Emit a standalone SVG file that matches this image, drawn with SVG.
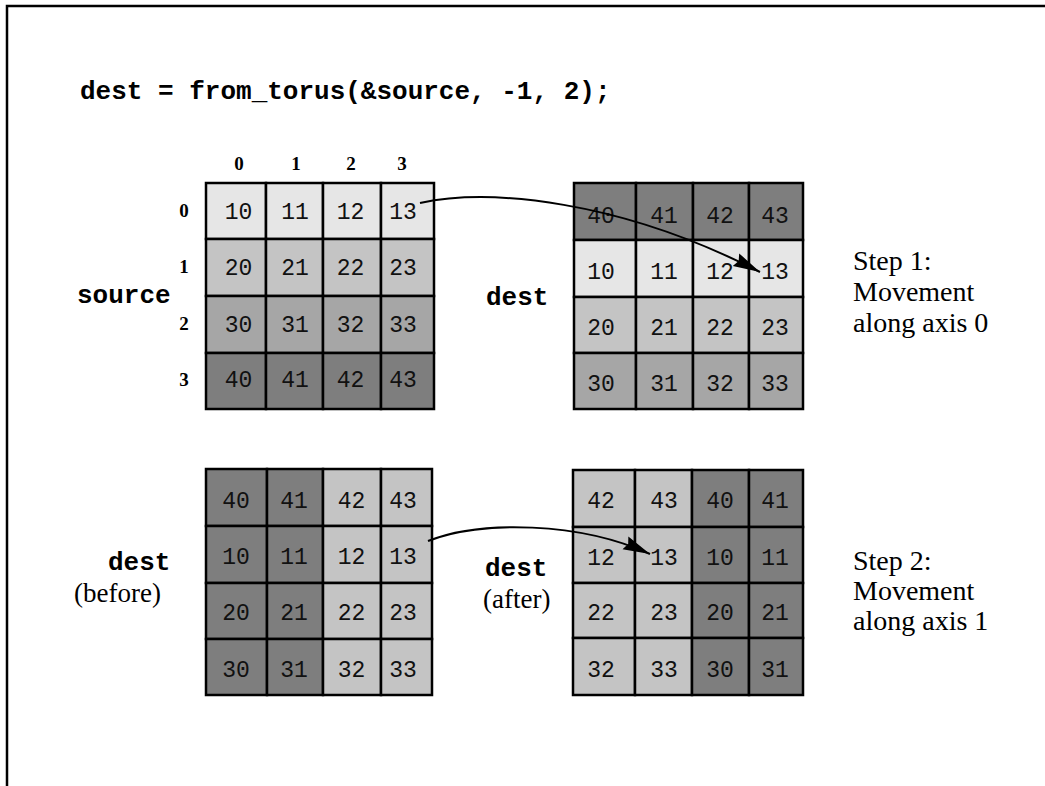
<svg xmlns="http://www.w3.org/2000/svg" width="1045" height="786" viewBox="0 0 1045 786">
<style>
.frame{fill:none;stroke:#000;stroke-width:2.5}
.cell{stroke:#000;stroke-width:2.5}
.c1{fill:#e6e6e6}
.c2{fill:#c4c4c4}
.c3{fill:#a6a6a6}
.c4{fill:#7e7e7e}
.num{font-family:"Liberation Mono",monospace;font-size:23px;fill:#111;text-anchor:middle}
.code{font-family:"Liberation Mono",monospace;font-size:26px;font-weight:bold;fill:#000}
.idx{font-family:"Liberation Serif",serif;font-size:19px;font-weight:bold;fill:#000;text-anchor:middle}
.note{font-family:"Liberation Serif",serif;font-size:28px;fill:#000}
.sub{font-family:"Liberation Serif",serif;font-size:27px;fill:#000}
.conn{fill:none;stroke:#000;stroke-width:2}
</style>
<defs>
<marker id="ah" markerUnits="userSpaceOnUse" markerWidth="28" markerHeight="16" refX="27" refY="8" orient="auto">
<path d="M0,1 L27,8 L0,15 L3,8 z" fill="#000"/>
</marker>
</defs>
<rect x="0" y="0" width="1045" height="786" fill="#fff"/>
<path class="frame" d="M7,786 L7,6 L1045,6"/>

<g id="title">
<text class="code" x="80" y="99">dest = from_torus(&amp;source, -1, 2);</text>
</g>

<g id="source-grid">
<text class="idx" x="239" y="170">0</text>
<text class="idx" x="296" y="170">1</text>
<text class="idx" x="351" y="170">2</text>
<text class="idx" x="402" y="170">3</text>
<text class="idx" x="184" y="217">0</text>
<text class="idx" x="184" y="273">1</text>
<text class="idx" x="184" y="330">2</text>
<text class="idx" x="184" y="386">3</text>
<text class="code" x="77" y="303">source</text>
<rect class="cell c1" x="206" y="183" width="60" height="56"/>
<rect class="cell c1" x="266" y="183" width="57" height="56"/>
<rect class="cell c1" x="323" y="183" width="58" height="56"/>
<rect class="cell c1" x="381" y="183" width="53" height="56"/>
<rect class="cell c2" x="206" y="239" width="60" height="57"/>
<rect class="cell c2" x="266" y="239" width="57" height="57"/>
<rect class="cell c2" x="323" y="239" width="58" height="57"/>
<rect class="cell c2" x="381" y="239" width="53" height="57"/>
<rect class="cell c3" x="206" y="296" width="60" height="57"/>
<rect class="cell c3" x="266" y="296" width="57" height="57"/>
<rect class="cell c3" x="323" y="296" width="58" height="57"/>
<rect class="cell c3" x="381" y="296" width="53" height="57"/>
<rect class="cell c4" x="206" y="353" width="60" height="56"/>
<rect class="cell c4" x="266" y="353" width="57" height="56"/>
<rect class="cell c4" x="323" y="353" width="58" height="56"/>
<rect class="cell c4" x="381" y="353" width="53" height="56"/>
<text class="num" x="238.5" y="219">10</text><text class="num" x="295" y="219">11</text><text class="num" x="350.5" y="219">12</text><text class="num" x="403" y="219">13</text>
<text class="num" x="238.5" y="275">20</text><text class="num" x="295" y="275">21</text><text class="num" x="350.5" y="275">22</text><text class="num" x="403" y="275">23</text>
<text class="num" x="238.5" y="331.5">30</text><text class="num" x="295" y="331.5">31</text><text class="num" x="350.5" y="331.5">32</text><text class="num" x="403" y="331.5">33</text>
<text class="num" x="238.5" y="387">40</text><text class="num" x="295" y="387">41</text><text class="num" x="350.5" y="387">42</text><text class="num" x="403" y="387">43</text>
</g>

<g id="dest-step1">
<text class="code" x="486" y="305">dest</text>
<rect class="cell c4" x="574" y="183" width="62" height="57"/>
<rect class="cell c4" x="636" y="183" width="57" height="57"/>
<rect class="cell c4" x="693" y="183" width="56" height="57"/>
<rect class="cell c4" x="749" y="183" width="54" height="57"/>
<rect class="cell c1" x="574" y="240" width="62" height="57"/>
<rect class="cell c1" x="636" y="240" width="57" height="57"/>
<rect class="cell c1" x="693" y="240" width="56" height="57"/>
<rect class="cell c1" x="749" y="240" width="54" height="57"/>
<rect class="cell c2" x="574" y="297" width="62" height="56"/>
<rect class="cell c2" x="636" y="297" width="57" height="56"/>
<rect class="cell c2" x="693" y="297" width="56" height="56"/>
<rect class="cell c2" x="749" y="297" width="54" height="56"/>
<rect class="cell c3" x="574" y="353" width="62" height="56"/>
<rect class="cell c3" x="636" y="353" width="57" height="56"/>
<rect class="cell c3" x="693" y="353" width="56" height="56"/>
<rect class="cell c3" x="749" y="353" width="54" height="56"/>
<text class="num" x="601" y="223">40</text><text class="num" x="664" y="223">41</text><text class="num" x="720" y="223">42</text><text class="num" x="775" y="223">43</text>
<text class="num" x="601" y="279">10</text><text class="num" x="664" y="279">11</text><text class="num" x="720" y="279">12</text><text class="num" x="775" y="279">13</text>
<text class="num" x="601" y="335">20</text><text class="num" x="664" y="335">21</text><text class="num" x="720" y="335">22</text><text class="num" x="775" y="335">23</text>
<text class="num" x="601" y="391">30</text><text class="num" x="664" y="391">31</text><text class="num" x="720" y="391">32</text><text class="num" x="775" y="391">33</text>
</g>

<g id="step1-label">
<text class="note" x="853" y="270">Step 1:</text>
<text class="note" x="853" y="301">Movement</text>
<text class="note" x="853" y="332">along axis 0</text>
</g>

<g id="dest-before">
<text class="code" x="108" y="570">dest</text>
<text class="sub" x="74" y="602">(before)</text>
<rect class="cell c4" x="206" y="469" width="61" height="57"/>
<rect class="cell c4" x="267" y="469" width="56" height="57"/>
<rect class="cell c2" x="323" y="469" width="58" height="57"/>
<rect class="cell c2" x="381" y="469" width="51" height="57"/>
<rect class="cell c4" x="206" y="526" width="61" height="57"/>
<rect class="cell c4" x="267" y="526" width="56" height="57"/>
<rect class="cell c2" x="323" y="526" width="58" height="57"/>
<rect class="cell c2" x="381" y="526" width="51" height="57"/>
<rect class="cell c4" x="206" y="583" width="61" height="56"/>
<rect class="cell c4" x="267" y="583" width="56" height="56"/>
<rect class="cell c2" x="323" y="583" width="58" height="56"/>
<rect class="cell c2" x="381" y="583" width="51" height="56"/>
<rect class="cell c4" x="206" y="639" width="61" height="56"/>
<rect class="cell c4" x="267" y="639" width="56" height="56"/>
<rect class="cell c2" x="323" y="639" width="58" height="56"/>
<rect class="cell c2" x="381" y="639" width="51" height="56"/>
<text class="num" x="236" y="508">40</text><text class="num" x="294" y="508">41</text><text class="num" x="351.5" y="508">42</text><text class="num" x="403" y="508">43</text>
<text class="num" x="236" y="564">10</text><text class="num" x="294" y="564">11</text><text class="num" x="351.5" y="564">12</text><text class="num" x="403" y="564">13</text>
<text class="num" x="236" y="620">20</text><text class="num" x="294" y="620">21</text><text class="num" x="351.5" y="620">22</text><text class="num" x="403" y="620">23</text>
<text class="num" x="236" y="677">30</text><text class="num" x="294" y="677">31</text><text class="num" x="351.5" y="677">32</text><text class="num" x="403" y="677">33</text>
</g>

<g id="dest-after">
<text class="code" x="485" y="576">dest</text>
<text class="sub" x="483" y="608">(after)</text>
<rect class="cell c2" x="573" y="470" width="62" height="57"/>
<rect class="cell c2" x="635" y="470" width="57" height="57"/>
<rect class="cell c4" x="692" y="470" width="57" height="57"/>
<rect class="cell c4" x="749" y="470" width="54" height="57"/>
<rect class="cell c2" x="573" y="527" width="62" height="56"/>
<rect class="cell c2" x="635" y="527" width="57" height="56"/>
<rect class="cell c4" x="692" y="527" width="57" height="56"/>
<rect class="cell c4" x="749" y="527" width="54" height="56"/>
<rect class="cell c2" x="573" y="583" width="62" height="55"/>
<rect class="cell c2" x="635" y="583" width="57" height="55"/>
<rect class="cell c4" x="692" y="583" width="57" height="55"/>
<rect class="cell c4" x="749" y="583" width="54" height="55"/>
<rect class="cell c2" x="573" y="638" width="62" height="57"/>
<rect class="cell c2" x="635" y="638" width="57" height="57"/>
<rect class="cell c4" x="692" y="638" width="57" height="57"/>
<rect class="cell c4" x="749" y="638" width="54" height="57"/>
<text class="num" x="601" y="508">42</text><text class="num" x="664" y="508">43</text><text class="num" x="720" y="508">40</text><text class="num" x="775" y="508">41</text>
<text class="num" x="601" y="565">12</text><text class="num" x="664" y="565">13</text><text class="num" x="720" y="565">10</text><text class="num" x="775" y="565">11</text>
<text class="num" x="601" y="620">22</text><text class="num" x="664" y="620">23</text><text class="num" x="720" y="620">20</text><text class="num" x="775" y="620">21</text>
<text class="num" x="601" y="677">32</text><text class="num" x="664" y="677">33</text><text class="num" x="720" y="677">30</text><text class="num" x="775" y="677">31</text>
</g>

<g id="step2-label">
<text class="note" x="853" y="570">Step 2:</text>
<text class="note" x="853" y="600">Movement</text>
<text class="note" x="853" y="630">along axis 1</text>
</g>

<g id="connectors">
<path class="conn" d="M420,203 C490,188 620,200 760,272" marker-end="url(#ah)"/>
<path class="conn" d="M428,541 C480,520 580,522 650,554" marker-end="url(#ah)"/>
</g>
</svg>
